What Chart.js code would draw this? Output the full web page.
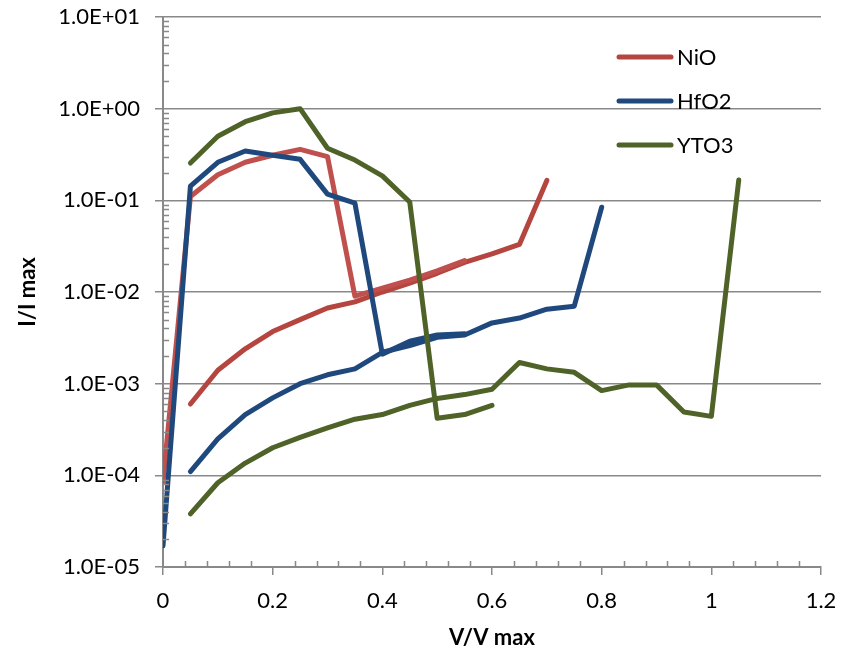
<!DOCTYPE html>
<html>
<head>
<meta charset="utf-8">
<style>
  html, body { margin: 0; padding: 0; background: #fff; }
  #c { display: block; }
</style>
<script src="https://cdn.jsdelivr.net/npm/chart.js@4/dist/chart.umd.min.js"></script>
</head>
<body>
<canvas id="c" width="852" height="654"></canvas>
<script>
// Normalised voltage (V/V max) and current (I/I max) for each film.
// Each material has a low-current sweep and a high-current sweep.
const nioLowV  = [0.05, 0.1, 0.15, 0.2, 0.25, 0.3, 0.35, 0.4, 0.45, 0.5, 0.55, 0.6, 0.65, 0.7];
const nioLowI  = [6.0e-4, 1.4e-3, 2.4e-3, 3.7e-3, 5.0e-3, 6.7e-3, 7.8e-3, 1.0e-2, 1.25e-2, 1.6e-2, 2.1e-2, 2.6e-2, 3.3e-2, 1.65e-1];
const nioHighV = [0, 0.05, 0.1, 0.15, 0.2, 0.25, 0.3, 0.35, 0.4, 0.45, 0.5, 0.55];
const nioHighI = [8.5e-5, 0.11, 0.19, 0.26, 0.31, 0.36, 0.30, 9.0e-3, 1.1e-2, 1.35e-2, 1.7e-2, 2.2e-2];

const hfoLowV  = [0.05, 0.1, 0.15, 0.2, 0.25, 0.3, 0.35, 0.4, 0.45, 0.5, 0.55, 0.6, 0.65, 0.7, 0.75, 0.8];
const hfoLowI  = [1.1e-4, 2.5e-4, 4.6e-4, 7.0e-4, 1.0e-3, 1.25e-3, 1.45e-3, 2.2e-3, 2.6e-3, 3.2e-3, 3.4e-3, 4.6e-3, 5.2e-3, 6.5e-3, 7.0e-3, 8.4e-2];
const hfoHighV = [0, 0.05, 0.1, 0.15, 0.2, 0.25, 0.3, 0.35, 0.4, 0.45, 0.5, 0.55];
const hfoHighI = [1.7e-5, 0.143, 0.26, 0.345, 0.31, 0.28, 0.117, 0.093, 2.1e-3, 2.9e-3, 3.4e-3, 3.5e-3];

const ytoLowV  = [0.05, 0.1, 0.15, 0.2, 0.25, 0.3, 0.35, 0.4, 0.45, 0.5, 0.55, 0.6, 0.65, 0.7, 0.75, 0.8, 0.85, 0.9, 0.95, 1.0, 1.05];
const ytoLowI  = [3.8e-5, 8.3e-5, 1.36e-4, 2.0e-4, 2.6e-4, 3.3e-4, 4.1e-4, 4.6e-4, 5.8e-4, 6.9e-4, 7.6e-4, 8.7e-4, 1.7e-3, 1.45e-3, 1.33e-3, 8.4e-4, 9.7e-4, 9.7e-4, 4.9e-4, 4.4e-4, 0.167];
const ytoHighV = [0.05, 0.1, 0.15, 0.2, 0.25, 0.3, 0.35, 0.4, 0.45, 0.5, 0.55, 0.6];
const ytoHighI = [0.255, 0.5, 0.72, 0.9, 1.0, 0.37, 0.275, 0.185, 0.096, 4.2e-4, 4.6e-4, 5.8e-4];

const seriesNames = ['NiO', 'HfO2', 'YTO3'];

// Axis ticks
const xTickValues = [0, 0.2, 0.4, 0.6, 0.8, 1, 1.2];
const xTickLabels = ['0', '0.2', '0.4', '0.6', '0.8', '1', '1.2'];
const yTickValues = [1e-5, 1e-4, 1e-3, 1e-2, 1e-1, 1, 10];
const yTickLabels = ['1.0E-05', '1.0E-04', '1.0E-03', '1.0E-02', '1.0E-01', '1.0E+00', '1.0E+01'];

const RED = '#C0504D', RED_DARK = '#B5453F';
const BLUE = '#1F497D';
const GREEN = '#4F6228';
const AXIS_GREY = '#898989';
const FONT = 'Lato, "Open Sans", sans-serif';

const pts = (xs, ys) => xs.map((x, i) => ({ x: x, y: ys[i] }));

function line(label, xs, ys, color, order) {
  return {
    label: label,
    data: pts(xs, ys),
    borderColor: color,
    backgroundColor: color,
    showLine: true,
    fill: false,
    order: order
  };
}

const datasets = [
  line(seriesNames[0], nioLowV, nioLowI, RED_DARK, 5),
  line('', nioHighV, nioHighI, RED, 4),
  line(seriesNames[1], hfoLowV, hfoLowI, BLUE, 3),
  line('', hfoHighV, hfoHighI, BLUE, 2),
  line(seriesNames[2], ytoLowV, ytoLowI, GREEN, 1),
  line('', ytoHighV, ytoHighI, GREEN, 0)
];

// Inner minor tick marks on both axes
const minorTicks = {
  id: 'minorTicks',
  afterDraw(chart) {
    const { ctx, chartArea, scales } = chart;
    const xs = scales.x, ys = scales.y;
    ctx.save();
    ctx.strokeStyle = AXIS_GREY;
    ctx.lineWidth = 1.5;
    ctx.beginPath();
    for (let e = -5; e < 1; e++) {
      for (let m = 2; m <= 9; m++) {
        const py = Math.round(ys.getPixelForValue(m * Math.pow(10, e))) + 0.5;
        ctx.moveTo(chartArea.left, py);
        ctx.lineTo(chartArea.left + 6, py);
      }
    }
    for (let k = 1; k < 30; k++) {
      if (k % 5 === 0) continue;
      const px = Math.round(xs.getPixelForValue(k * 0.04)) + 0.5;
      ctx.moveTo(px, chartArea.bottom);
      ctx.lineTo(px, chartArea.bottom - 6);
    }
    ctx.stroke();
    ctx.restore();
  }
};

// Legend inside the plot, top right
const insideLegend = {
  id: 'insideLegend',
  afterDraw(chart) {
    const { ctx } = chart;
    const items = chart.data.datasets.filter(d => d.label);
    ctx.save();
    ctx.font = '22px ' + FONT;
    ctx.textBaseline = 'middle';
    ctx.textAlign = 'left';
    items.forEach((d, i) => {
      const y = 57 + i * 44;
      ctx.strokeStyle = d.borderColor;
      ctx.lineWidth = 5;
      ctx.lineCap = 'round';
      ctx.beginPath();
      ctx.moveTo(619, y);
      ctx.lineTo(671, y);
      ctx.stroke();
      ctx.fillStyle = '#000';
      ctx.fillText(d.label, 677, y + 1);
    });
    ctx.restore();
  }
};

new Chart(document.getElementById('c'), {
  type: 'scatter',
  data: { datasets: datasets },
  plugins: [minorTicks, insideLegend],
  options: {
    responsive: false,
    animation: false,
    layout: { autoPadding: false, padding: { left: 0, right: 31, top: 17, bottom: 0 } },
    plugins: { legend: { display: false }, tooltip: { enabled: false } },
    elements: {
      point: { radius: 0, hoverRadius: 0 },
      line: { borderWidth: 5, tension: 0, borderCapStyle: 'round', borderJoinStyle: 'round' }
    },
    scales: {
      x: {
        type: 'linear',
        min: 0,
        max: 1.2,
        afterBuildTicks: s => { s.ticks = xTickValues.map(v => ({ value: v })); },
        afterFit: s => { s.height = 87; s.paddingLeft = 0; s.paddingRight = 0; },
        grid: { drawOnChartArea: false, drawTicks: true, tickLength: 8, color: AXIS_GREY, lineWidth: 1.5 },
        border: { display: true, color: AXIS_GREY, width: 2 },
        ticks: {
          autoSkip: false, maxRotation: 0, padding: 13, color: '#000',
          font: { family: FONT, size: 22 },
          callback: (v, i) => xTickLabels[i]
        },
        title: {
          display: true, text: 'V/V max', color: '#000',
          font: { family: FONT, size: 22, weight: 'bold' },
          padding: { top: 0, bottom: 3 }
        }
      },
      y: {
        type: 'logarithmic',
        min: 1e-5,
        max: 10,
        afterBuildTicks: s => { s.ticks = yTickValues.map(v => ({ value: v, major: true })); },
        afterFit: s => { s.width = 163; s.paddingTop = 0; s.paddingBottom = 0; },
        grid: { drawOnChartArea: true, drawTicks: true, tickLength: 8, color: AXIS_GREY, lineWidth: 1.5 },
        border: { display: true, color: AXIS_GREY, width: 2 },
        ticks: {
          autoSkip: false, padding: 15, color: '#000',
          font: { family: FONT, size: 22 },
          callback: (v, i) => yTickLabels[i]
        },
        title: {
          display: true, text: 'I/I max', color: '#000',
          font: { family: FONT, size: 22, weight: 'bold' },
          padding: { top: 15, bottom: 0 }
        }
      }
    }
  }
});
</script>
</body>
</html>
